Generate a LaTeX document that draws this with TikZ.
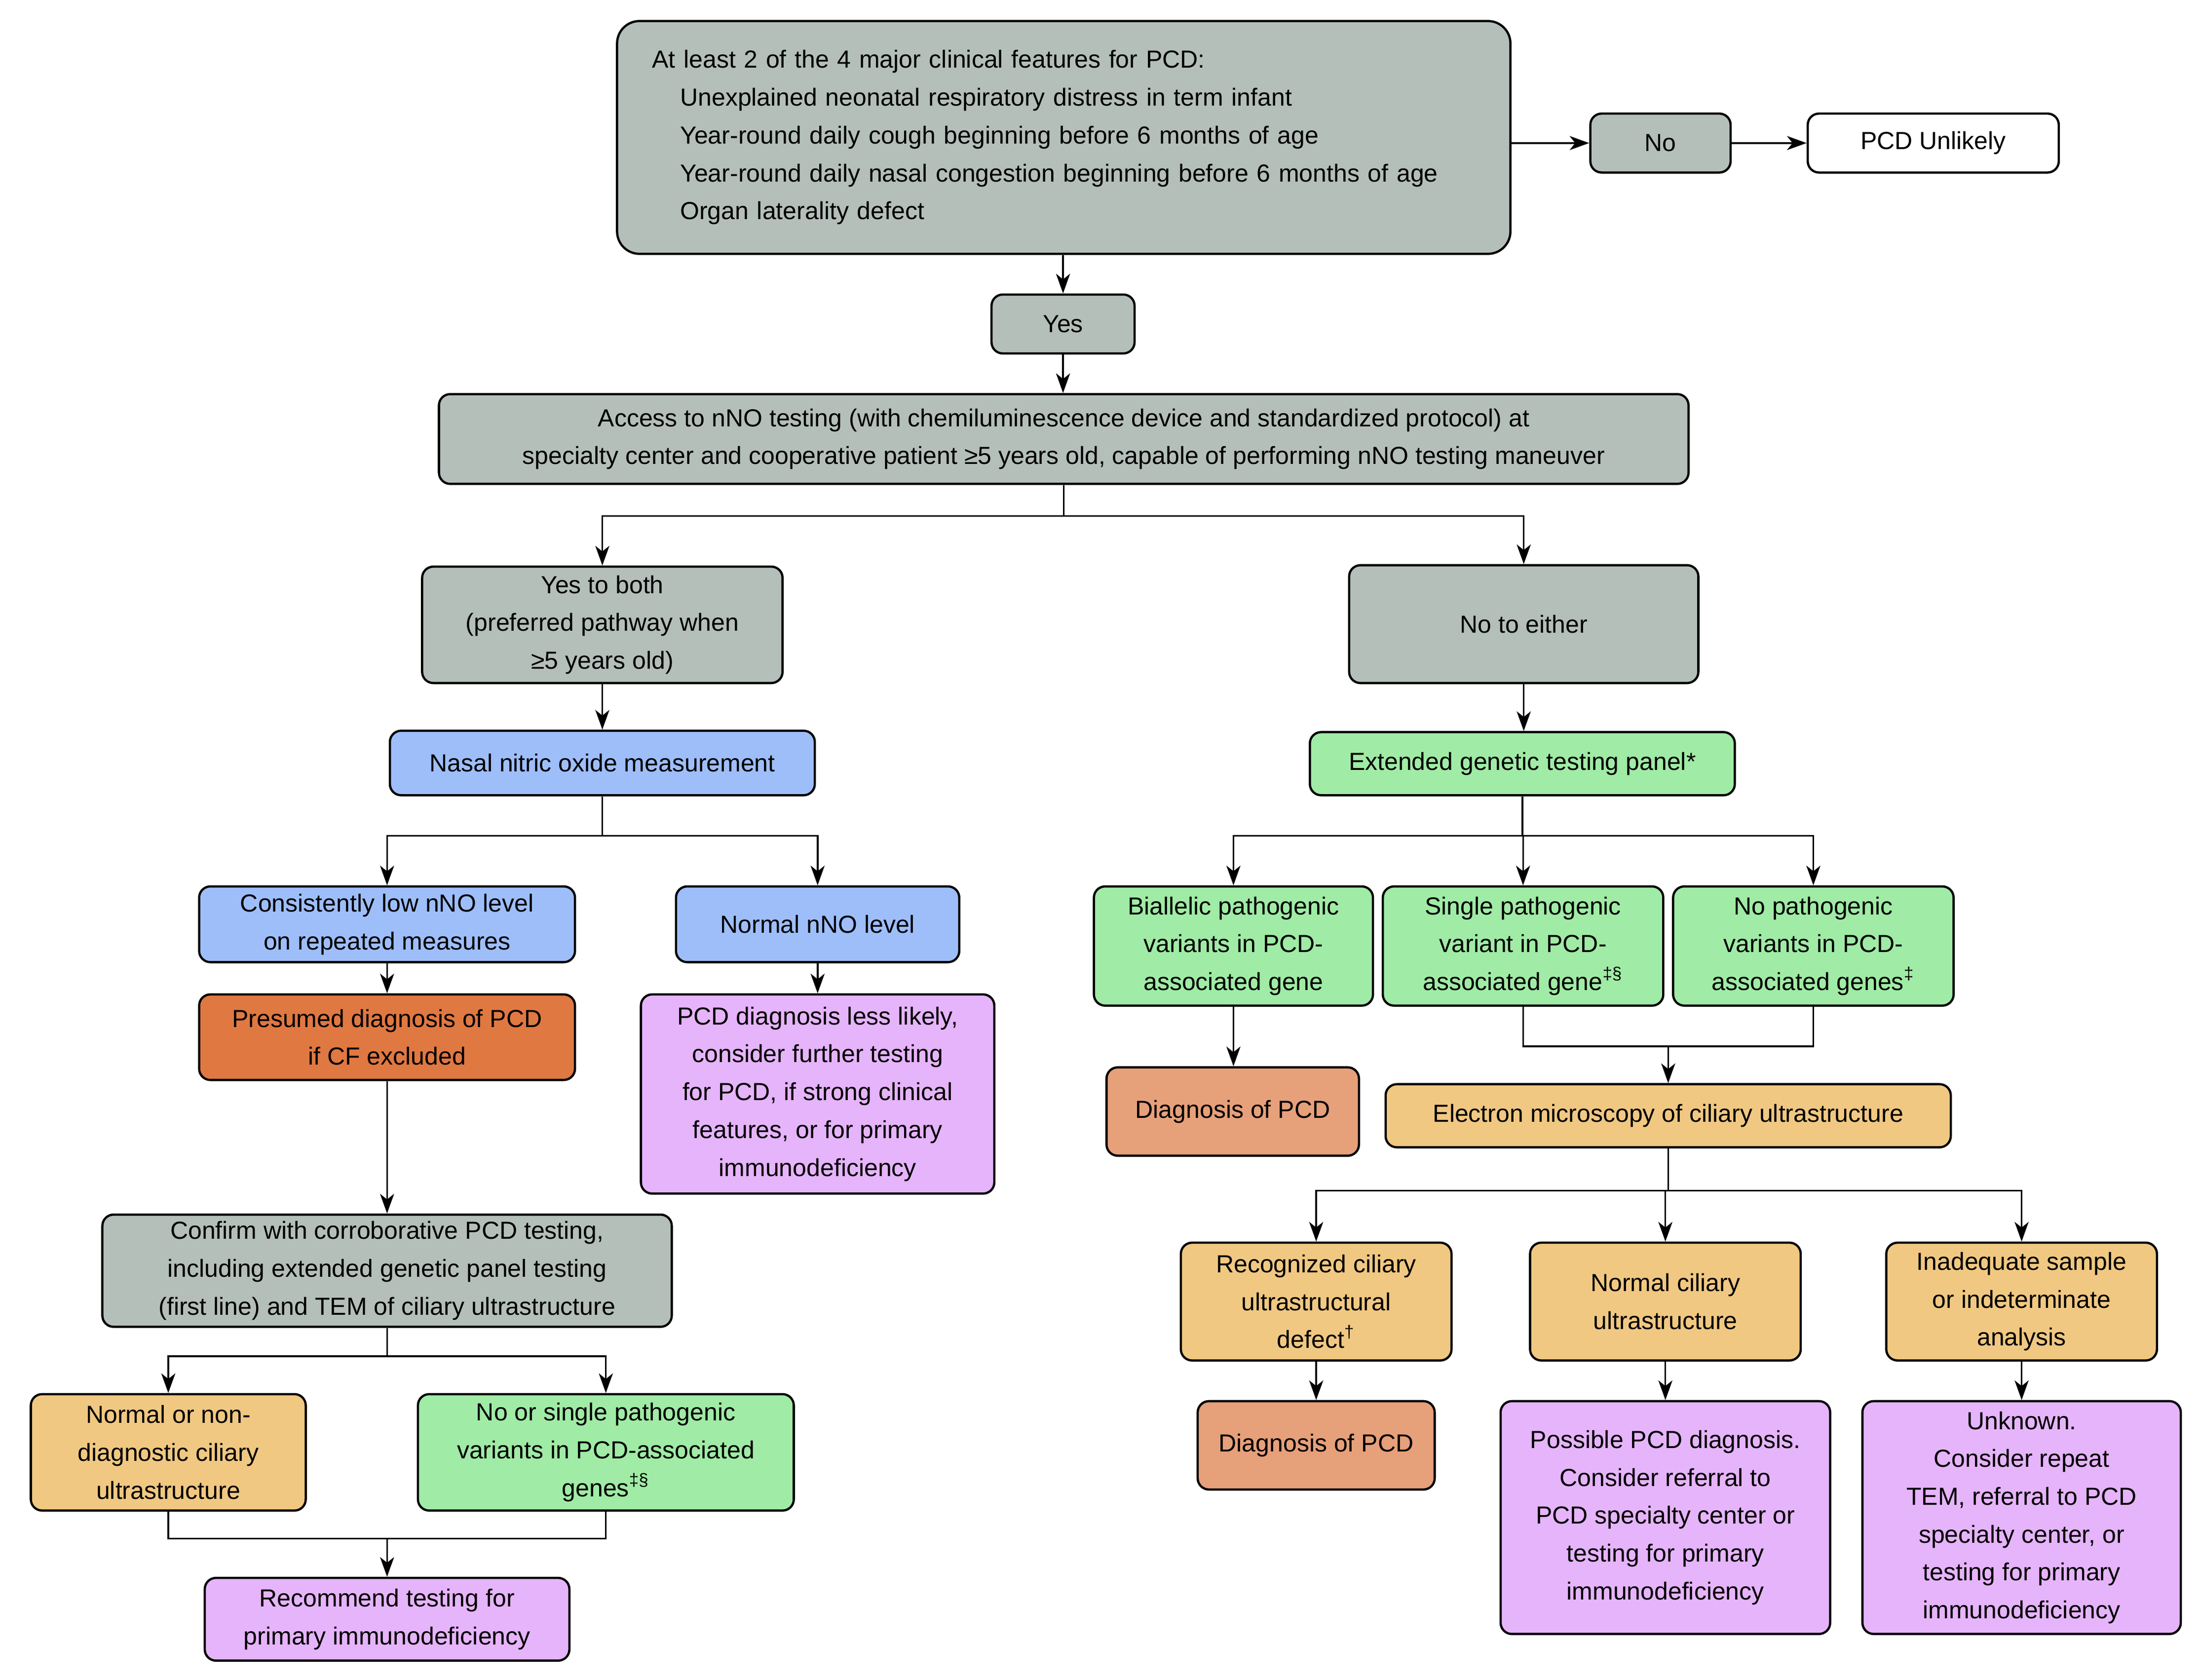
\documentclass[tikz,border=0pt]{standalone}
\usepackage{fontspec}
\setmainfont{Liberation Sans}
\usetikzlibrary{arrows.meta,positioning,calc}
\definecolor{cgray}{RGB}{180,191,186}
\definecolor{cblue}{RGB}{158,190,250}
\definecolor{corange}{RGB}{224,120,66}
\definecolor{csalmon}{RGB}{230,160,122}
\definecolor{cpink}{RGB}{230,180,250}
\definecolor{cgreen}{RGB}{160,235,165}
\definecolor{cltorange}{RGB}{240,200,130}
\tikzset{
  box/.style={draw=black, line width=0.8pt, rounded corners=4pt, align=center,
    font=\fontsize{8.8}{13.5}\selectfont, inner sep=2pt},
  conn/.style={line width=0.6pt, draw=black},
  arr/.style={conn, -{Stealth[length=7pt,width=5pt,inset=2pt]}},
}
\newcommand{\bx}[7]{% name, cx, cy, w(pt), h(pt), fill, text
  \node[box, fill=#6, minimum width=#4pt, minimum height=#5pt] (#1) at (#2,#3) {#7};}
\begin{document}
\begin{tikzpicture}[x=0.5pt,y=-0.5pt]
\useasboundingbox (0,0) rectangle (1568,1197.8);
% top
\node[box, fill=cgray, rounded corners=8pt, minimum width=318.5pt, minimum height=83pt,
  text width=293.5pt, inner xsep=12.5pt, align=left] (top) at (758.5,98)
  {At least 2 of the 4 major clinical features for PCD:\\
   \hspace*{10pt}Unexplained neonatal respiratory distress in term infant\\
   \hspace*{10pt}Year-round daily cough beginning before 6 months of age\\
   \hspace*{10pt}Year-round daily nasal congestion beginning before 6 months of age\\
   \hspace*{10pt}Organ laterality defect};
\bx{no}{1184}{102}{50}{21}{cgray}{No}
\bx{unlikely}{1378.5}{102}{89.5}{21}{white}{PCD Unlikely}
\bx{yes}{758}{231}{51}{21}{cgray}{Yes}
\bx{access}{758.5}{313}{445.5}{32}{cgray}{Access to nNO testing (with chemiluminescence device and standardized protocol) at\\specialty center and cooperative patient ≥5 years old, capable of performing nNO testing maneuver}
\bx{yesboth}{429.5}{445.5}{128.5}{41.5}{cgray}{Yes to both\\(preferred pathway when\\≥5 years old)}
\bx{noeither}{1086.5}{445}{124.5}{42}{cgray}{No to either}
% left branch
\bx{nasal}{429.5}{544}{151.5}{23}{cblue}{Nasal nitric oxide measurement}
\bx{low}{276}{659}{134}{27}{cblue}{Consistently low nNO level\\on repeated measures}
\bx{normalno}{583}{659}{101}{27}{cblue}{Normal nNO level}
\bx{presumed}{276}{739.5}{134}{30.5}{corange}{Presumed diagnosis of PCD\\if CF excluded}
\bx{lesslikely}{583}{780}{126}{71}{cpink}{PCD diagnosis less likely,\\consider further testing\\for PCD, if strong clinical\\features, or for primary\\immunodeficiency}
\bx{confirm}{276}{906}{203}{40}{cgray}{Confirm with corroborative PCD testing,\\including extended genetic panel testing\\(first line) and TEM of ciliary ultrastructure}
\bx{nondiag}{120}{1035.5}{98}{41.5}{cltorange}{Normal or non-\\diagnostic ciliary\\ultrastructure}
\bx{nosingle}{432}{1035.5}{134}{41.5}{cgreen}{No or single pathogenic\\variants in PCD-associated\\genes\textsuperscript{‡§}}
\bx{recommend}{276}{1154.5}{130}{29.5}{cpink}{Recommend testing for\\primary immunodeficiency}
% right branch
\bx{extended}{1085.5}{544.5}{151.5}{22.5}{cgreen}{Extended genetic testing panel*}
\bx{biallelic}{879.5}{674.5}{99.5}{42.5}{cgreen}{Biallelic pathogenic\\variants in PCD-\\associated gene}
\bx{single}{1086}{674.5}{100}{42.5}{cgreen}{Single pathogenic\\variant in PCD-\\associated gene\textsuperscript{‡§}}
\bx{nopath}{1293}{674.5}{100}{42.5}{cgreen}{No pathogenic\\variants in PCD-\\associated genes\textsuperscript{‡}}
\bx{diagA}{879}{792.5}{90}{31.5}{csalmon}{Diagnosis of PCD}
\bx{electron}{1189.5}{795.5}{201.5}{22.5}{cltorange}{Electron microscopy of ciliary ultrastructure}
\bx{recognized}{938.5}{928}{96.5}{42}{cltorange}{Recognized ciliary\\ultrastructural\\defect\textsuperscript{†}}
\bx{normalcil}{1187.5}{928}{96.5}{42}{cltorange}{Normal ciliary\\ultrastructure}
\bx{inadequate}{1441.5}{928}{96.5}{42}{cltorange}{Inadequate sample\\or indeterminate\\analysis}
\bx{diagB}{938.5}{1030.5}{84.5}{31.5}{csalmon}{Diagnosis of PCD}
\bx{possible}{1187.5}{1082}{117.5}{83}{cpink}{Possible PCD diagnosis.\\Consider referral to\\PCD specialty center or\\testing for primary\\immunodeficiency}
\bx{unknown}{1441.5}{1082}{113.5}{83}{cpink}{Unknown.\\Consider repeat\\TEM, referral to PCD\\specialty center, or\\testing for primary\\immunodeficiency}
% junction coordinates
\coordinate (j1) at (758.5,368);
\coordinate (j2) at (429.5,596);
\coordinate (j3) at (276,967);
\coordinate (m1) at (276,1097);
\coordinate (j4) at (1085.5,596);
\coordinate (m2) at (1189.5,746);
\coordinate (j5) at (1189.5,849);
% connectors
\draw[arr] (top.east |- no.west) -- (no.west);
\draw[arr] (no.east) -- (unlikely.west);
\draw[arr] (top.south -| yes.north) -- (yes.north);
\draw[arr] (yes.south) -- (yes.south |- access.north);
\draw[conn] (access.south) -- (j1);
\draw[arr] (j1) -| (yesboth.north);
\draw[arr] (j1) -| (noeither.north);
\draw[arr] (yesboth.south) -- (nasal.north);
\draw[conn] (nasal.south) -- (j2);
\draw[arr] (j2) -| (low.north);
\draw[arr] (j2) -| (normalno.north);
\draw[arr] (low.south) -- (presumed.north);
\draw[arr] (normalno.south) -- (lesslikely.north);
\draw[arr] (presumed.south) -- (confirm.north);
\draw[conn] (confirm.south) -- (j3);
\draw[arr] (j3) -| (nondiag.north);
\draw[arr] (j3) -| (nosingle.north);
\draw[conn] (nondiag.south) |- (m1) -| (nosingle.south);
\draw[arr] (m1) -- (recommend.north);
\draw[arr] (noeither.south) -- (noeither.south |- extended.north);
\draw[conn] (extended.south) -- (j4);
\draw[arr] (j4) -| (biallelic.north);
\draw[arr] (j4) -| (single.north);
\draw[arr] (j4) -| (nopath.north);
\draw[arr] (biallelic.south) -- (biallelic.south |- diagA.north);
\draw[conn] (single.south) |- (m2) -| (nopath.south);
\draw[arr] (m2) -- (electron.north);
\draw[conn] (electron.south) -- (j5);
\draw[arr] (j5) -| (recognized.north);
\draw[arr] (j5) -| (normalcil.north);
\draw[arr] (j5) -| (inadequate.north);
\draw[arr] (recognized.south) -- (diagB.north);
\draw[arr] (normalcil.south) -- (possible.north);
\draw[arr] (inadequate.south) -- (unknown.north);
\end{tikzpicture}
\end{document}
